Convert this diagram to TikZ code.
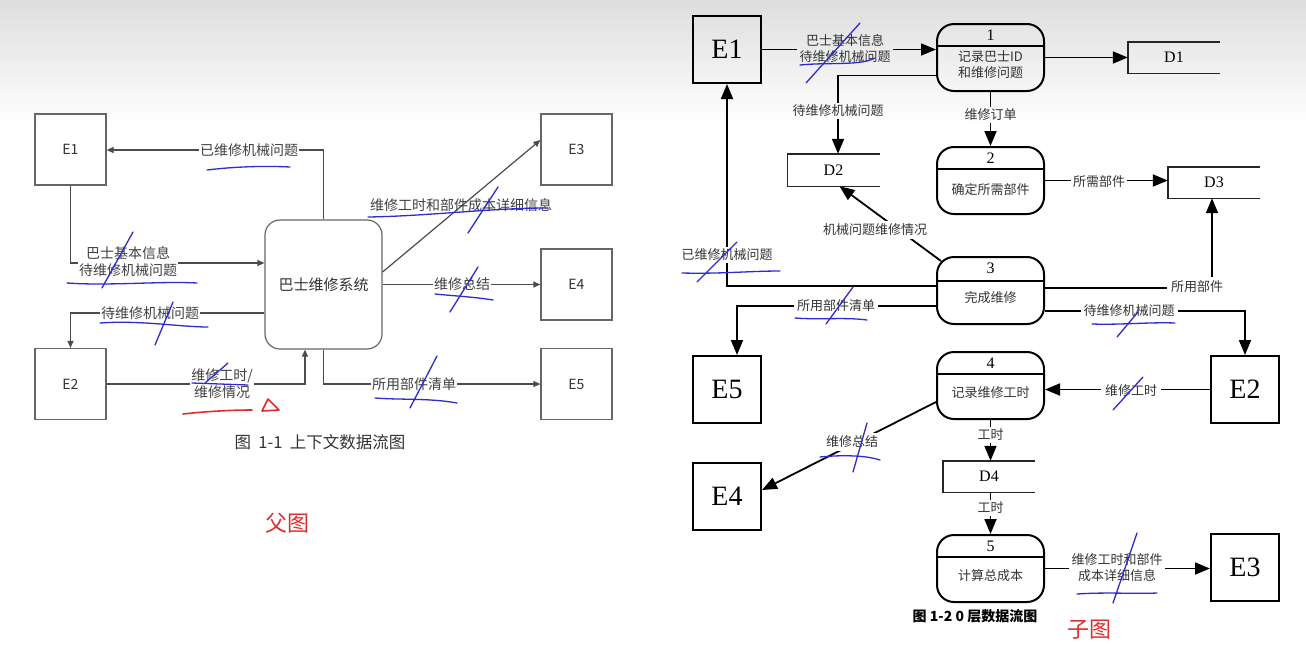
\documentclass[tikz,border=0pt]{standalone}
\usepackage{fontspec}
\setmainfont{Liberation Serif}
\newfontfamily\cjk{Noto Sans CJK SC}
\usetikzlibrary{arrows.meta,calc}
\definecolor{penblue}{RGB}{45,45,205}
\definecolor{penred}{RGB}{225,45,45}
\begin{document}
\begin{tikzpicture}[x=1pt,y=-1pt,
  lbox/.style={draw=black!60, line width=1.2pt, minimum width=71pt, minimum height=71pt, inner sep=0pt, font=\cjk\fontsize{14}{16}\selectfont, text=black!80},
  lline/.style={draw=black!70, line width=1.2pt},
  larr/.style={lline, -{Triangle[length=7pt,width=6pt]}},
  ltxt/.style={font=\cjk\fontsize{14}{17}\selectfont, text=black!75, inner sep=1pt, align=center},
  rbox/.style={draw=black, line width=2pt, minimum width=68pt, minimum height=67pt, inner sep=0pt, font=\fontsize{28}{30}\selectfont},
  rline/.style={draw=black, line width=1.8pt},
  rarr/.style={rline, -{Triangle[length=15pt,width=12pt]}},
  rtxt/.style={font=\cjk\fontsize{13}{16}\selectfont, text=black!80, inner sep=2pt, align=center},
  proc/.style={draw=black, line width=2pt, rounded corners=17pt, minimum width=107pt, minimum height=67pt, inner sep=0pt},
  pnum/.style={font=\fontsize{16}{18}\selectfont, inner sep=0pt},
  store/.style={minimum width=92pt, minimum height=31pt, inner sep=0pt, font=\fontsize{16}{18}\selectfont},
  storeline/.style={draw=black!85, line width=1.4pt},
  pen/.style={draw=penblue, line width=1.3pt, line cap=round},
  redpen/.style={draw=penred, line width=1.6pt, line cap=round, line join=round}
]
\useasboundingbox (0,0) rectangle (1306,654);
\fill[white] (0,0) rectangle (1306,654);
\shade[top color=black!13, bottom color=white] (0,0) rectangle (1306,125);

%%%%%%%%%%%%%%%% LEFT: context diagram %%%%%%%%%%%%%%%%
\node[lbox] (LE1) at (70.5,149.5) {E1};
\node[lbox] (LE2) at (70.5,384) {E2};
\node[lbox] (LE3) at (576.5,149.5) {E3};
\node[lbox] (LE4) at (576.5,284.5) {E4};
\node[lbox] (LE5) at (576.5,384) {E5};
\node[draw=black!60, line width=1.2pt, rounded corners=15pt, minimum width=117pt, minimum height=129pt, inner sep=0pt, font=\cjk\fontsize{15}{17}\selectfont, text=black!80] (LP) at (323.5,284.5) {巴士维修系统};

% 已维修机械问题
\node[ltxt] (l1) at (249,150) {已维修机械问题};
\draw[lline] (LP.north) |- (l1.east);
\draw[larr] (l1.west) -- (l1.west -| LE1.east);
% E1 -> system
\draw[larr] (LE1.south) |- ($(LP.west)+(0,-21.5)$);
\node[ltxt, fill=white] (l2) at (128,262) {巴士基本信息\\待维修机械问题};
% system -> E2
\draw[larr] ($(LP.west)+(0,28.5)$) -| (LE2.north);
\node[ltxt, fill=white] (l3) at (150,313) {待维修机械问题};
% E2 -> system
\draw[larr] (LE2.east) -| ($(LP.south)+(-18.5,0)$);
\node[ltxt, fill=white] (l4) at (222,384) {维修工时/\\维修情况};
% system -> E5
\draw[larr] (LP.south) |- (LE5.west);
\node[ltxt, fill=white] (l5) at (414,384) {所用部件清单};
% system -> E4
\draw[larr] (LP.east) -- (LE4.west);
\node[ltxt, fill=white] (l6) at (462,284) {维修总结};
% system -> E3
\draw[larr] ($(LP.east)+(0,-12.5)$) -- ($(LE3.west)+(0,-9.5)$);
\node[ltxt] (l7) at (461,205) {维修工时和部件成本详细信息};

\node[font=\cjk\fontsize{16.5}{18}\selectfont, text=black!80, anchor=west] (cap1) at (231,442) {图\ \ 1-1\ \ 上下文数据流图};
\node[font=\cjk\fontsize{22}{24}\selectfont, text=penred] (fu) at (287,523) {父图};

% annotations (left)
\draw[pen] (207,170) .. controls (240,166) and (270,166) .. (290,167);
\draw[pen] (133,232) -- (102,288);
\draw[pen] (67,283) .. controls (110,286) and (160,281) .. (197,283);
\draw[pen] (100,323) .. controls (140,320) and (180,327) .. (208,327);
\draw[pen] (173,302) -- (155,345);
\draw[pen] (228,363) -- (205,383);
\draw[pen] (192,383) -- (248,385);
\draw[redpen] (183,414) .. controls (210,411) and (235,410) .. (252,410);
\draw[redpen] (268,399) -- (262,411) -- (279,410) -- cycle;
\draw[pen] (368,217) .. controls (430,216) and (490,208) .. (548,208);
\draw[pen] (498,187) -- (468,233);
\draw[pen] (478,267) -- (450,312);
\draw[pen] (435,294) .. controls (455,296) and (475,297) .. (493,300);
\draw[pen] (437,356) -- (410,408);
\draw[pen] (375,398) .. controls (400,400) and (430,398) .. (457,403);

%%%%%%%%%%%%%%%% RIGHT: level-0 diagram %%%%%%%%%%%%%%%%
\node[rbox] (RE1) at (727,49.5) {E1};
\node[rbox] (RE5) at (727,389.5) {E5};
\node[rbox] (RE4) at (727,496.5) {E4};
\node[rbox] (RE2) at (1245,389.5) {E2};
\node[rbox] (RE3) at (1245,567) {E3};

% processes
\node[proc] (P1) at (990.5,57.5) {};
\draw[line width=1.3pt] ($(P1.north west)+(0,23)$) -- ($(P1.north east)+(0,23)$);
\node[pnum] (P1n) at ($(P1.north)+(0,12)$) {1};
\node[rtxt] (P1t) at ($(P1.north)+(0,42)$) {记录巴士ID\\和维修问题};

\node[proc] (P2) at (990.5,180.5) {};
\draw[line width=1.3pt] ($(P2.north west)+(0,23)$) -- ($(P2.north east)+(0,23)$);
\node[pnum] (P2n) at ($(P2.north)+(0,12)$) {2};
\node[rtxt] (P2t) at ($(P2.north)+(0,44)$) {确定所需部件};

\node[proc] (P3) at (990.5,290.5) {};
\draw[line width=1.3pt] ($(P3.north west)+(0,25)$) -- ($(P3.north east)+(0,25)$);
\node[pnum] (P3n) at ($(P3.north)+(0,12)$) {3};
\node[rtxt] (P3t) at ($(P3.north)+(0,42)$) {完成维修};

\node[proc] (P4) at (990.5,385.5) {};
\draw[line width=1.3pt] ($(P4.north west)+(0,23)$) -- ($(P4.north east)+(0,23)$);
\node[pnum] (P4n) at ($(P4.north)+(0,12)$) {4};
\node[rtxt] (P4t) at ($(P4.north)+(0,42)$) {记录维修工时};

\node[proc] (P5) at (990.5,568.5) {};
\draw[line width=1.3pt] ($(P5.north west)+(0,23)$) -- ($(P5.north east)+(0,23)$);
\node[pnum] (P5n) at ($(P5.north)+(0,12)$) {5};
\node[rtxt] (P5t) at ($(P5.north)+(0,42)$) {计算总成本};

% stores
\node[store] (D1) at (1174,57.5) {D1};
\draw[storeline] (D1.north east) -- (D1.north west) -- (D1.south west) -- (D1.south east);
\node[store, minimum height=32pt] (D2) at (833.5,170) {D2};
\draw[storeline] (D2.north east) -- (D2.north west) -- (D2.south west) -- (D2.south east);
\node[store] (D3) at (1214,182.5) {D3};
\draw[storeline] (D3.north east) -- (D3.north west) -- (D3.south west) -- (D3.south east);
\node[store] (D4) at (989,476.5) {D4};
\draw[storeline] (D4.north east) -- (D4.north west) -- (D4.south west) -- (D4.south east);

% a: E1 -> P1
\node[rtxt] (ra) at (845,48) {巴士基本信息\\待维修机械问题};
\draw[rline] (RE1.east) -- (RE1.east -| ra.west);
\draw[rarr] (RE1.east -| ra.east) -- (RE1.east -| P1.west);
% b: P1 -> D2
\node[rtxt] (rb) at (838,111) {待维修机械问题};
\draw[rline] ($(P1.west)+(0,18)$) -| (rb.north);
\draw[rarr] (rb.south) -- (rb.south |- D2.north);
% c: P1 -> P2
\node[rtxt] (rc) at (990.5,115) {维修订单};
\draw[rline] (P1.south) -- (rc.north);
\draw[rarr] (rc.south) -- (P2.north);
% d: P1 -> D1
\draw[rarr] (P1.east) -- (P1.east -| D1.west);
% e: P2 -> D3
\node[rtxt] (re) at (1099,182) {所需部件};
\draw[rline] (P2.east) -- (P2.east -| re.west);
\draw[rarr] (P2.east -| re.east) -- (P2.east -| D3.west);
% f: P3 -> D2
\draw[rarr] ($(P3.north west)+(5,5)$) -- ($(D2.south)+(6,0)$);
\node[rtxt, fill=white, inner sep=3pt] (rf) at (875,230) {机械问题维修情况};
% g: P3 -> E1
\draw[rarr] ($(P3.west)+(0,-4.5)$) -| (RE1.south);
\node[rtxt, fill=white] (rg) at (727,255) {已维修机械问题};
% h: P3 -> E5
\draw[rarr] ($(P3.west)+(0,15.5)$) -| ($(RE5.north)+(10,0)$);
\node[rtxt, fill=white, inner sep=3pt] (rh) at (836,306) {所用部件清单};
% i: P3 -> D3
\draw[rarr] ($(P3.east)+(0,-2.5)$) -| ($(D3.south)+(-2,0)$);
\node[rtxt, fill=white, inner sep=4pt] (ri) at (1197,287) {所用部件};
% j: P3 -> E2
\draw[rarr] ($(P3.east)+(0,20.5)$) -| (RE2.north);
\node[rtxt, fill=white, inner sep=3pt] (rj) at (1129,311) {待维修机械问题};
% k: E2 -> P4
\draw[rarr] (RE2.west) -- (RE2.west -| P4.east);
\node[rtxt, fill=white, inner sep=4pt] (rk) at (1131,391) {维修工时};
% l: P4 -> E4
\draw[rarr] ($(P4.west)+(0,16.5)$) -- ($(RE4.east)+(0,-6.5)$);
\node[rtxt, fill=white, inner sep=3pt] (rl) at (852,442) {维修总结};
% m: P4 -> D4
\node[rtxt] (rm) at (990.5,435) {工时};
\draw[rline] (P4.south) -- (rm.north);
\draw[rarr] (rm.south) -- (rm.south |- D4.north);
% n: D4 -> P5
\node[rtxt] (rn) at (990.5,508) {工时};
\draw[rline] (rn.north |- D4.south) -- (rn.north);
\draw[rarr] (rn.south) -- (P5.north);
% o: P5 -> E3
\node[rtxt] (ro) at (1117,568) {维修工时和部件\\成本详细信息};
\draw[rline] (P5.east) -- (P5.east -| ro.west);
\draw[rarr] (P5.east -| ro.east) -- (P5.east -| RE3.west);

\node[font=\cjk\bfseries\fontsize{14}{16}\selectfont] (cap2) at (975,616) {图 1-2 0 层数据流图};
\node[font=\cjk\fontsize{22}{24}\selectfont, text=penred] (zi) at (1089,630) {子图};

% annotations (right)
\draw[pen] (860,23) -- (806,83);
\draw[pen] (800,65) .. controls (830,62) and (860,66) .. (875,58);
\draw[pen] (737,242) -- (697,282);
\draw[pen] (682,273) .. controls (720,274) and (750,271) .. (780,271);
\draw[pen] (853,287) -- (826,324);
\draw[pen] (795,318) .. controls (820,320) and (845,317) .. (867,320);
\draw[pen] (1138,312) -- (1117,337);
\draw[pen] (1092,324) .. controls (1120,325) and (1150,322) .. (1175,323);
\draw[pen] (1143,377) -- (1113,410);
\draw[pen] (867,423) -- (853,472);
\draw[pen] (820,457) .. controls (840,455) and (865,455) .. (880,460);
\draw[pen] (1137,533) -- (1113,603);
\draw[pen] (1077,594) .. controls (1105,592) and (1135,594) .. (1157,593);
\end{tikzpicture}
\end{document}
